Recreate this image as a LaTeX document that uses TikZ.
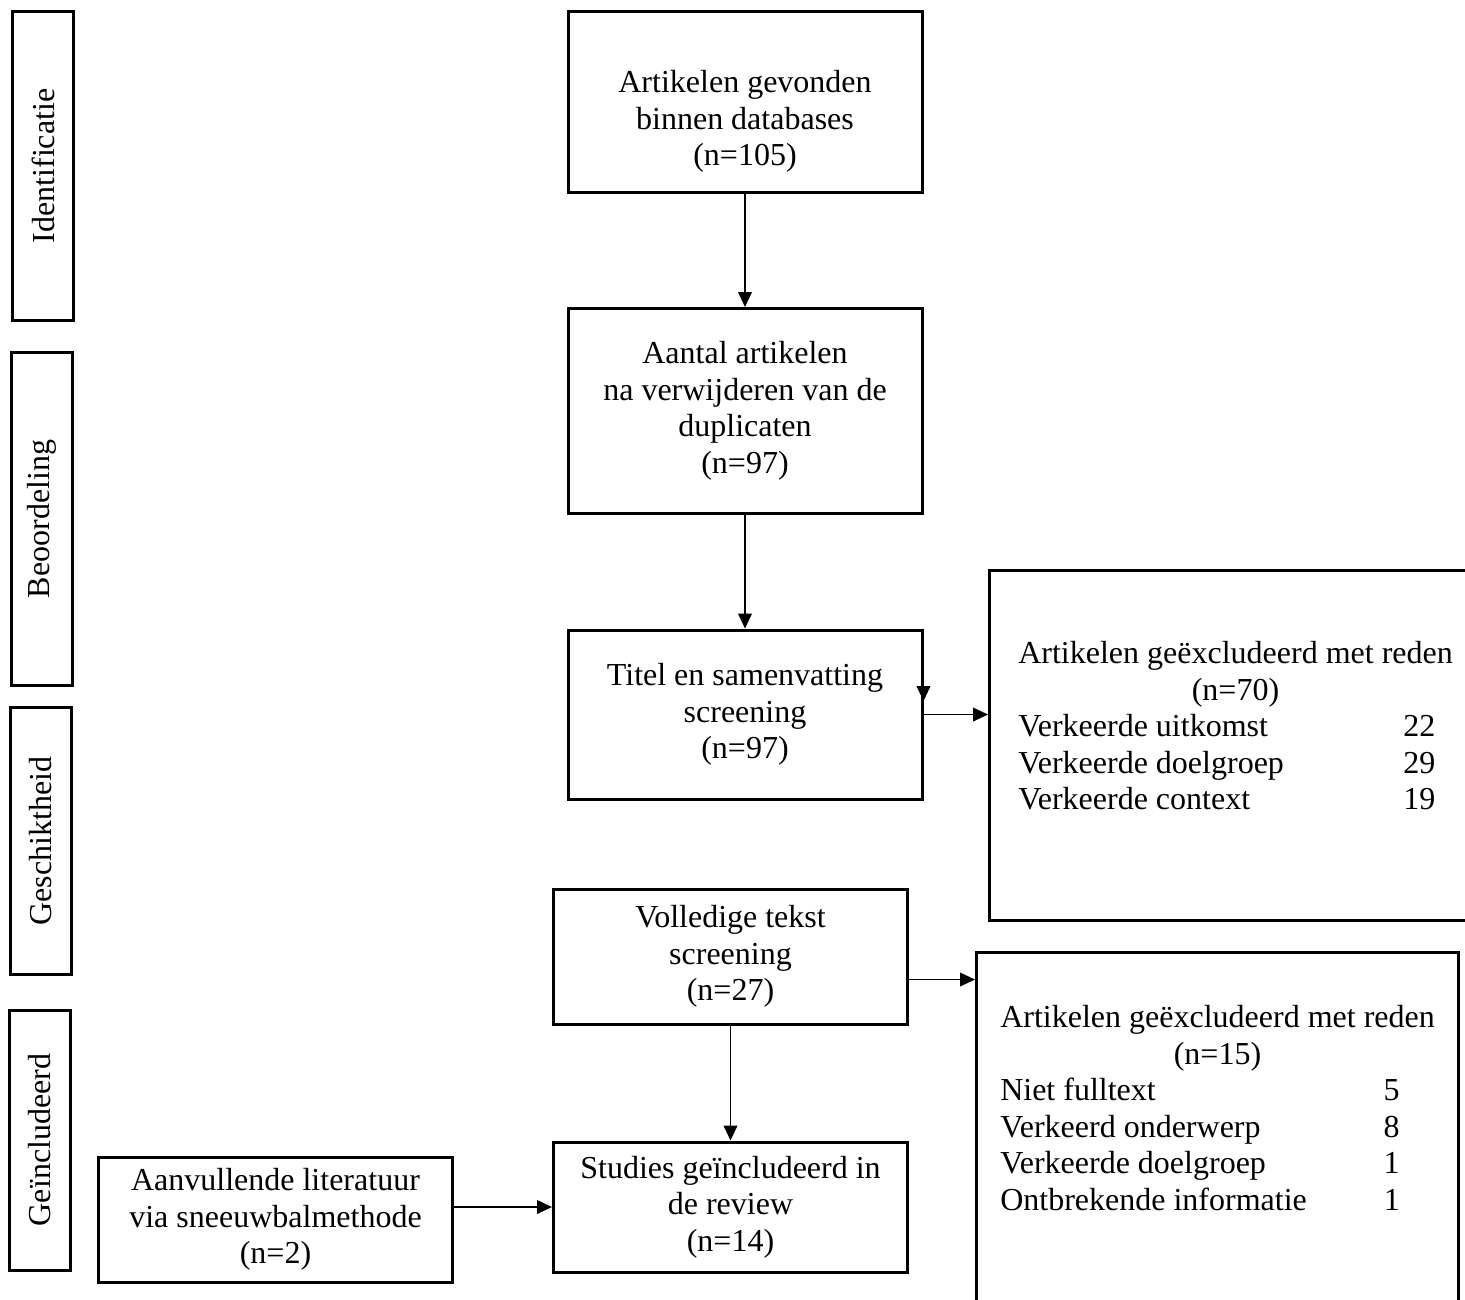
\documentclass[tikz,border=0pt]{standalone}
\usepackage{fontspec}
\setmainfont{Liberation Serif}
\usetikzlibrary{positioning,arrows.meta}
\newlength\redenw

\begin{document}
\begin{tikzpicture}[->,>={Triangle[length=6pt,width=5.5pt]},line width=0.6pt,x=0.4pt,y=-0.4pt,node distance=45.4pt,font=\fontsize{12.8}{14.6}\selectfont]
      \tikzstyle{box}=[draw,line width=1.2pt,align=center,minimum width=141.6pt,inner sep=2pt]
      \tikzstyle{phase}=[draw,line width=1.2pt,rotate=90,minimum height=24pt,inner sep=1pt]
      \tikzstyle{reden}=[draw,line width=1.2pt,anchor=north west,inner sep=0pt]

      \useasboundingbox (0,0) rectangle (1465,1299);

      \node(identificatie) [phase,minimum width=123.2pt] at (43,166) {Identificatie};
      \node(beoordeling) [phase,minimum width=133.2pt] at (42,519) {Beoordeling};
      \node(geschiktheid) [phase,minimum width=106.8pt] at (41,841) {Geschiktheid};
      \node(geincludeerd) [phase,minimum width=104pt] at (40,1140) {Geïncludeerd};

      \node(gevonden) [box,minimum height=72pt] at (745,102) {\rule{0pt}{24.7pt}Artikelen gevonden\\binnen databases\\(n=105)};
      \node(duplicaten) [box,minimum height=82pt,below=of gevonden] {Aantal artikelen\\na verwijderen van de\\duplicaten\\(n=97)} edge [<-] (gevonden);
      \node(screening) [box,minimum height=67.6pt,below=of duplicaten] {Titel en samenvatting\\screening\\(n=97)} edge [<-] (duplicaten);
      \node(fulltext) [box,minimum height=54pt,below=34.8pt of screening,xshift=-5.8pt] {Volledige tekst\\screening\\(n=27)};
      \node(review) [box,minimum height=52pt,below=46pt of fulltext] {Studies geïncludeerd in\\de review\\(n=14)} edge [<-] (fulltext);
      \node(sneeuwbal) [box,minimum height=50pt,left=39.2pt of review,yshift=-5pt] {Aanvullende literatuur\\via sneeuwbalmethode\\(n=2)};

      \node(redenen1) [reden,minimum width=196.8pt,minimum height=140pt] at (988,569) {\settowidth\redenw{Artikelen geëxcludeerd met reden}%
        \begin{tabular*}{\redenw}{@{}l@{\extracolsep{\fill}}r@{\hspace{7pt}}}
        \multicolumn{2}{@{}c@{}}{Artikelen geëxcludeerd met reden}\\
        \multicolumn{2}{@{}c@{}}{(n=70)}\\
        Verkeerde uitkomst & 22\\
        Verkeerde doelgroep & 29\\
        Verkeerde context & 19\\[12.8pt]
        \end{tabular*}};
      \node(redenen2) [reden,minimum width=192.8pt,minimum height=160pt] at (975,951) {\settowidth\redenw{Artikelen geëxcludeerd met reden}%
        \begin{tabular*}{\redenw}{@{}l@{\extracolsep{\fill}}r@{\hspace{14pt}}}
        \multicolumn{2}{@{}c@{}}{Artikelen geëxcludeerd met reden}\\
        \multicolumn{2}{@{}c@{}}{(n=15)}\\
        Niet fulltext & 5\\
        Verkeerd onderwerp & 8\\
        Verkeerde doelgroep & 1\\
        Ontbrekende informatie & 1\\[32.8pt]
        \end{tabular*}};

      \coordinate(pijl) at ([yshift=5.4pt]screening.east);
      \draw (screening.north east) -- (pijl);
      \draw (screening.east) -- (screening.east -| redenen1.west);
      \draw ([yshift=-9.2pt]fulltext.east) -- ([yshift=-9.2pt]fulltext.east -| redenen2.west);
      \draw (sneeuwbal.east |- review) -- (review.west);
    \end{tikzpicture}
\end{document}
